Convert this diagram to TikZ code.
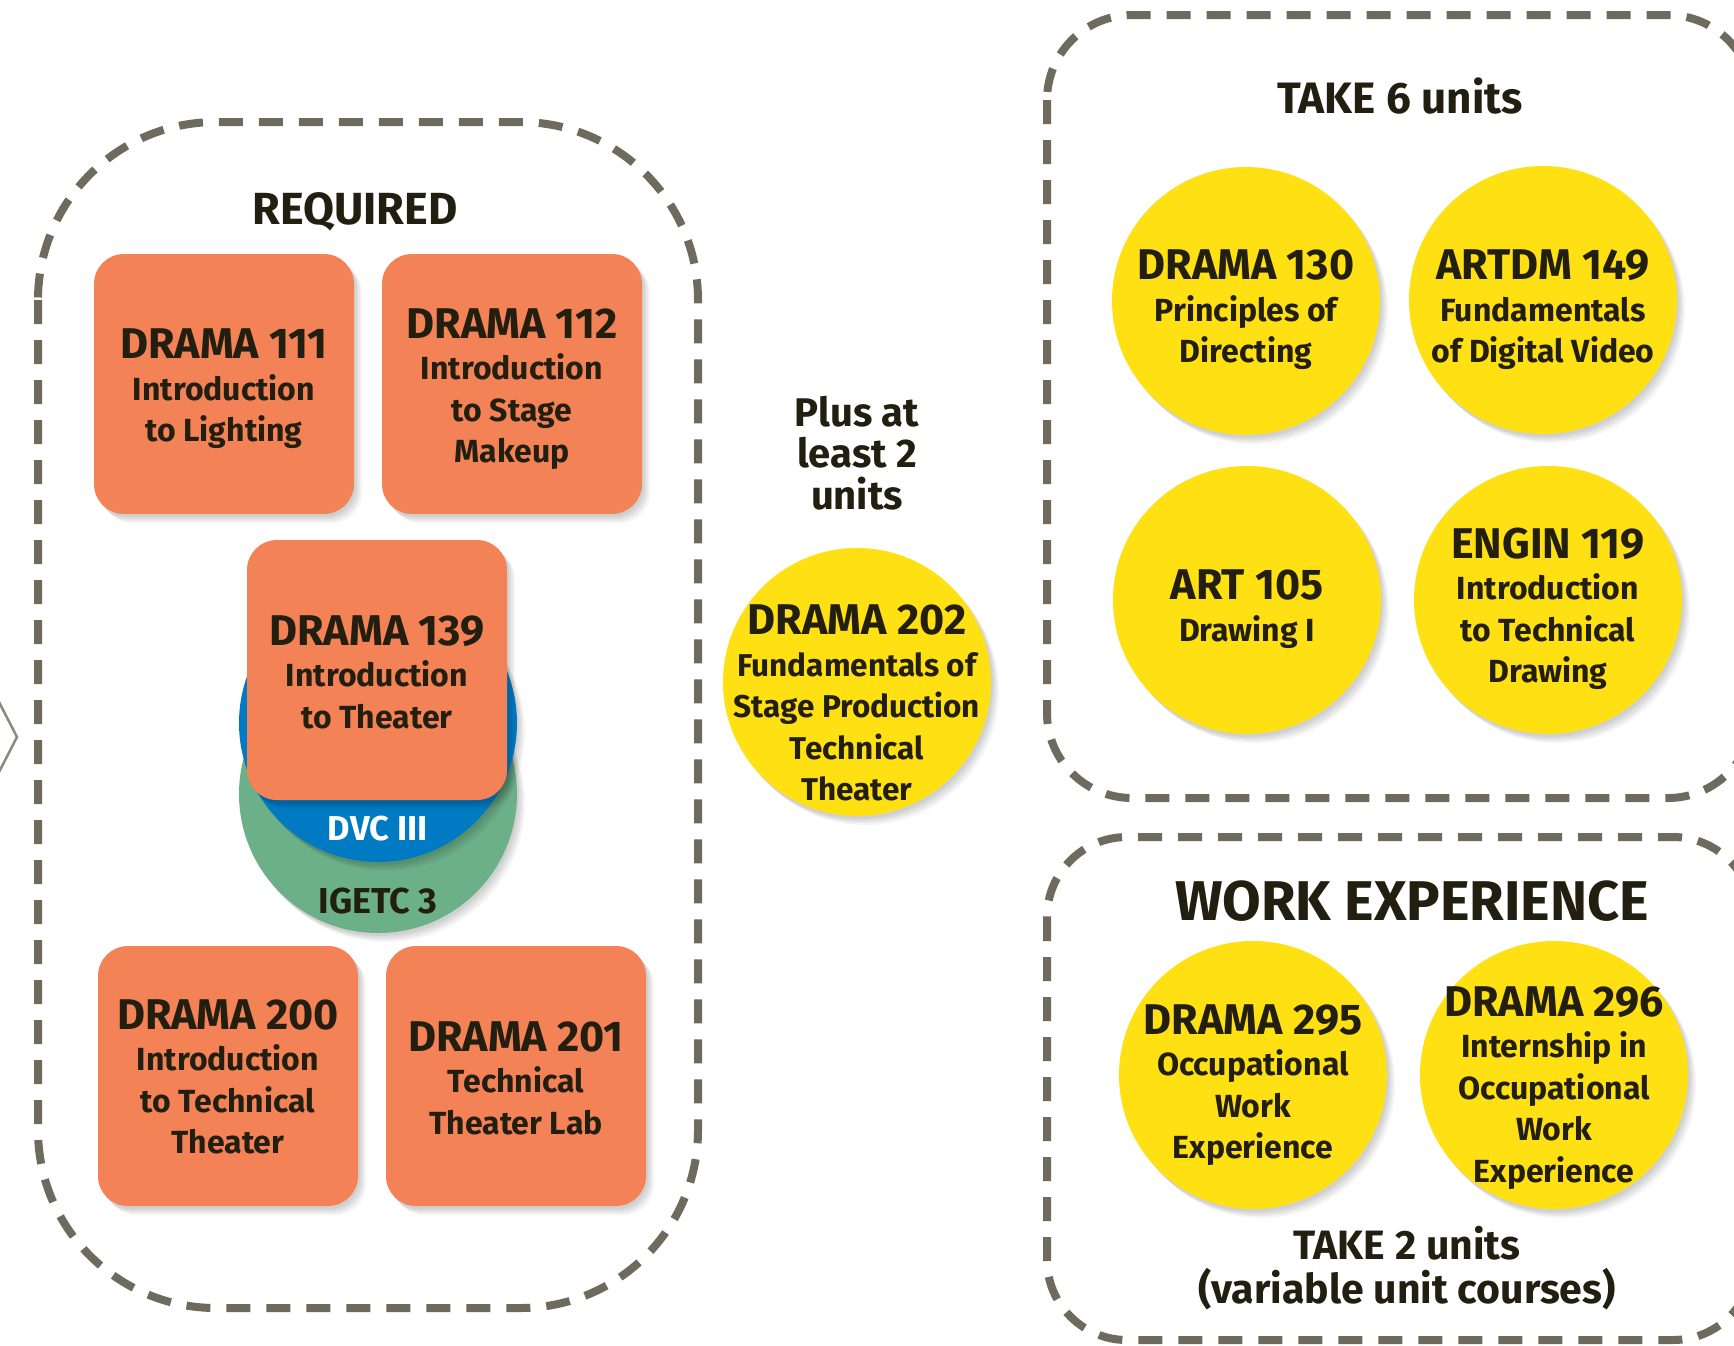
\documentclass[tikz,border=0pt]{standalone}
\usepackage{fontspec}
\setmainfont{Fira Sans}
\definecolor{orng}{RGB}{243,130,87}
\definecolor{yel}{RGB}{255,224,18}
\definecolor{blu}{RGB}{0,122,194}
\definecolor{grn}{RGB}{108,176,137}
\definecolor{dgray}{RGB}{110,107,94}
\definecolor{chevc}{RGB}{140,138,125}
\definecolor{ink}{RGB}{35,31,16}
\newcommand{\ctitle}{\fontsize{43}{41.5}\selectfont}
\tikzset{
  softsh/.style={
    preaction={fill=black, fill opacity=0.05, transform canvas={shift={(2pt,-3pt)}}},
    preaction={fill=black, fill opacity=0.05, transform canvas={shift={(4pt,-5pt)}}},
    preaction={fill=black, fill opacity=0.05, transform canvas={shift={(6pt,-7pt)}}},
    preaction={fill=black, fill opacity=0.04, transform canvas={shift={(8pt,-9pt)}}}},
  obox/.style={rectangle, rounded corners=30pt, fill=orng, minimum width=260pt, minimum height=260pt, inner sep=0pt, softsh},
  ycirc/.style={circle, fill=yel, minimum size=268pt, inner sep=0pt, softsh},
  ecirc/.style={circle, minimum size=278pt, inner sep=0pt, softsh},
  ctext/.style={align=center, text=ink, font=\bfseries\fontsize{32}{41.5}\selectfont, inner sep=0pt},
  head/.style={anchor=base, text=ink, inner sep=0pt},
  dashbox/.style={draw=dgray, line width=8pt, dash pattern=on 24pt off 16pt},
}
\begin{document}
\begin{tikzpicture}[x=1pt,y=-1pt]
\useasboundingbox (0,0) rectangle (1734,1345);
\fill[white] (0,0) rectangle (1734,1345);

% chevron at left edge
\coordinate (chA) at (-2,700);
\coordinate (chB) at (17,737);
\coordinate (chC) at (-2,774);
\draw[chevc, line width=2.5pt] (chA) -- (chB) -- (chC);

% dashed frames
\draw[dashbox, rounded corners=178pt] (38,122) rectangle (698,1308);
\draw[dashbox, rounded corners=85pt] (1047,15) rectangle (1753,798);
\draw[dashbox, rounded corners=80pt] (1047,837) rectangle (1753,1340);

% headings
\node[head, font=\bfseries\fontsize{45}{50}\selectfont] (req) at (355,224) {REQUIRED};
\node[head, font=\bfseries\fontsize{44}{50}\selectfont] (take6) at (1400,113) {TAKE 6 units};
\node[head, font=\bfseries\fontsize{56}{60}\selectfont] (work) at (1412,920) {WORK EXPERIENCE};
\node[ctext, font=\bfseries\fontsize{41}{44}\selectfont] (take2) at (1407,1268) {TAKE 2 units\\(variable unit courses)};
\node[ctext, font=\bfseries\fontsize{40}{41.5}\selectfont] (plus) at (857,453) {Plus at\\least 2\\units};

% required orange boxes
\node[obox] (b111) at (224,384) {};
\node[ctext] (t111) at (224,389) {{\ctitle DRAMA 111}\\Introduction\\to Lighting};
\node[obox] (b112) at (512,384) {};
\node[ctext] (t112) at (512,389) {{\ctitle DRAMA 112}\\Introduction\\to Stage\\Makeup};

% DRAMA 139 with DVC / IGETC circles
\node[ecirc, fill=grn] (igetc) at (378,794) {};
\node[ecirc, fill=blu] (dvc) at (378,723) {};
\node[head, font=\bfseries\fontsize{36}{40}\selectfont] (tigetc) at (378,913) {IGETC 3};
\node[head, text=white, font=\bfseries\fontsize{34.5}{40}\selectfont] (tdvc) at (378,840) {DVC III};
\node[obox] (b139) at (377,670) {};
\node[ctext] (t139) at (377,672) {{\ctitle DRAMA 139}\\Introduction\\to Theater};

\node[obox] (b200) at (228,1076) {};
\node[ctext] (t200) at (228,1077) {{\ctitle DRAMA 200}\\Introduction\\to Technical\\Theater};
\node[obox] (b201) at (516,1076) {};
\node[ctext] (t201) at (516,1078) {{\ctitle DRAMA 201}\\Technical\\Theater Lab};

% DRAMA 202
\node[ycirc] (c202) at (857,682) {};
\node[ctext, font=\bfseries\fontsize{31.5}{41.5}\selectfont] (t202) at (857,703) {{\ctitle DRAMA 202}\\Fundamentals of\\Stage Production\\Technical\\Theater};

% take 6 units
\node[ycirc] (c130) at (1246,301) {};
\node[ctext] (t130) at (1246,310) {{\ctitle DRAMA 130}\\Principles of\\Directing};
\node[ycirc] (c149) at (1543,300) {};
\node[ctext] (t149) at (1543,310) {{\ctitle ARTDM 149}\\Fundamentals\\of Digital Video};
\node[ycirc] (c105) at (1247,600) {};
\node[ctext] (t105) at (1247,609) {{\ctitle ART 105}\\Drawing I};
\node[ycirc] (c119) at (1548,600) {};
\node[ctext] (t119) at (1548,609) {{\ctitle ENGIN 119}\\Introduction\\to Technical\\Drawing};

% work experience
\node[ycirc] (c295) at (1253,1075) {};
\node[ctext] (t295) at (1253,1085) {{\ctitle DRAMA 295}\\Occupational\\Work\\Experience};
\node[ycirc] (c296) at (1554,1075) {};
\node[ctext] (t296) at (1554,1088) {{\ctitle DRAMA 296}\\Internship in\\Occupational\\Work\\Experience};
\end{tikzpicture}
\end{document}
